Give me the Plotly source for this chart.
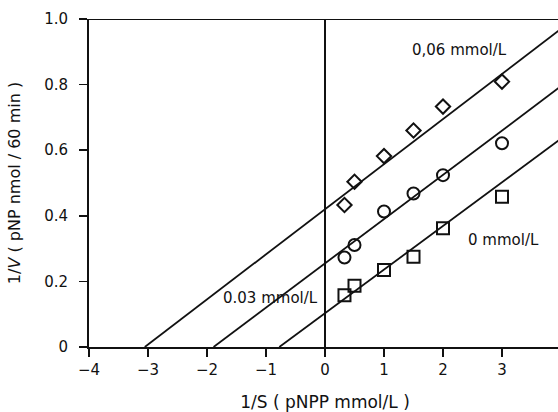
import plotly.graph_objects as go

# Substrate reciprocal (1/S) and measured 1/V for three inhibitor levels
inv_s = [0.33, 0.5, 1.0, 1.5, 2.0, 3.0]
inv_v_006 = [0.433, 0.504, 0.582, 0.66, 0.733, 0.809]
inv_v_003 = [0.273, 0.311, 0.413, 0.468, 0.524, 0.621]
inv_v_000 = [0.158, 0.187, 0.235, 0.275, 0.362, 0.458]

# Fitted Lineweaver-Burk lines: (slope, y-intercept)
fit_006 = (0.1375, 0.42)
fit_003 = (0.135, 0.255)
fit_000 = (0.133, 0.103)

series_labels = ["0,06 mmol/L", "0.03 mmol/L", "0 mmol/L"]
label_pos = [(2.28, 0.905), (-0.92, 0.149), (3.03, 0.326)]

x_ticks = [-4, -3, -2, -1, 0, 1, 2, 3, 4]
y_ticks = [0, 0.2, 0.4, 0.6, 0.8, 1.0]
y_tick_text = ["0", "0.2", "0.4", "0.6", "0.8", "1.0"]

X_MAX = 4.0
FONT = "DejaVu Sans, Liberation Sans, Arial, sans-serif"
INK = "#111111"

fig = go.Figure()

for slope, icpt in (fit_006, fit_003, fit_000):
    x0 = -icpt / slope
    fig.add_trace(go.Scatter(
        x=[x0, X_MAX], y=[0, icpt + slope * X_MAX],
        mode="lines", line=dict(color=INK, width=1.8),
        showlegend=False, hoverinfo="skip",
    ))

for vals, sym, size in ((inv_v_006, "diamond-open", 11),
                        (inv_v_003, "circle-open", 12),
                        (inv_v_000, "square-open", 12)):
    fig.add_trace(go.Scatter(
        x=inv_s, y=vals, mode="markers",
        marker=dict(symbol=sym, size=size, color=INK,
                    line=dict(width=2, color=INK)),
        showlegend=False, cliponaxis=False,
    ))

for text, (lx, ly) in zip(series_labels, label_pos):
    fig.add_annotation(x=lx, y=ly, text=text, showarrow=False,
                       font=dict(family=FONT, size=15, color=INK))

# top border of the frame
fig.add_shape(type="line", xref="x", yref="y", x0=-4, x1=X_MAX, y0=1.0, y1=1.0,
              line=dict(color=INK, width=2), layer="above")

# the figure runs a few pixels past the window so the open right side
# (x = 4) sits just beyond the visible edge
fig.update_layout(
    width=561, height=412,
    margin=dict(l=89, r=0, t=19, b=65),
    paper_bgcolor="white", plot_bgcolor="white",
    font=dict(family=FONT, size=15, color=INK),
    dragmode=False,
    xaxis=dict(
        range=[-4, X_MAX], tickvals=x_ticks,
        ticktext=[str(t).replace("-", "\u2212") for t in x_ticks],
        showgrid=False, showline=True, linecolor=INK, linewidth=2,
        ticks="outside", ticklen=8, tickwidth=1.5, automargin=False,
        tickcolor=INK, zeroline=True, zerolinecolor=INK, zerolinewidth=2,
        title=dict(text="1/S ( pNPP mmol/L )", standoff=22,
                   font=dict(size=17)),
        tickfont=dict(size=15),
    ),
    yaxis=dict(
        range=[0, 1.0], tickvals=y_ticks, ticktext=y_tick_text,
        showgrid=False, showline=True, linecolor=INK, linewidth=2,
        ticks="outside", ticklen=8, tickwidth=1.5, tickcolor=INK,
        zeroline=False, ticklabelstandoff=8, automargin=False,
        title=dict(text="1/<i>V</i> ( pNP nmol / 60 min )", standoff=20,
                   font=dict(size=16)),
        tickfont=dict(size=15),
    ),
)

# keep the page from scrolling since the figure is wider than the window
page_css = ("document.documentElement.style.overflow='hidden';"
            "document.body.style.overflow='hidden';"
            "document.body.style.margin='0';")

fig.write_html("out.html", config={"staticPlot": True}, post_script=page_css)
